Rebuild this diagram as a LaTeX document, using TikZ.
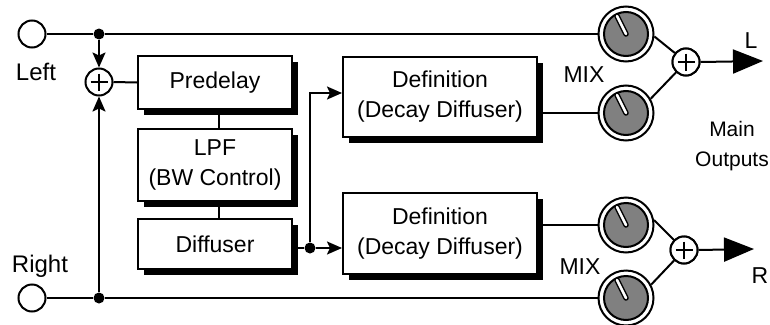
\documentclass[tikz,border=0pt]{standalone}
\usepackage{fontspec}
\setmainfont{Liberation Sans}
\usetikzlibrary{shadows,arrows.meta,calc}
\begin{document}
\begin{tikzpicture}[x=1pt,y=-1pt,
  font=\fontsize{23}{30}\selectfont,
  wire/.style={line width=2pt},
  arr/.style={wire,-{Stealth[length=15pt,width=13pt,inset=3pt]}},
  bigarr/.style={wire,-{Triangle[length=30pt,width=24pt]}},
  blk/.style={draw,line width=2pt,fill=white,inner sep=0pt,align=center,
    drop shadow={shadow xshift=6pt,shadow yshift=-6pt,fill=black,opacity=1}},
  port/.style={circle,draw,line width=2pt,fill=white,minimum size=27pt,inner sep=0pt,outer sep=1pt},
  junc/.style={circle,fill=black,minimum size=11pt,inner sep=0pt},
  summer/.style={circle,draw,line width=2pt,fill=white,minimum size=27pt,inner sep=0pt,outer sep=1pt,
    path picture={\draw[line width=2.4pt] ($(path picture bounding box.center)+(-8.5,0)$) -- +(17,0)
      ($(path picture bounding box.center)+(0,-8.5)$) -- +(0,17);}},
  knob/.style={circle,draw,line width=2pt,fill=white,minimum size=55pt,inner sep=0pt,outer sep=1pt},
  knobin/.style={draw,line width=2pt,fill=black!50},
  lbl/.style={inner sep=0pt,anchor=base},
  biglbl/.style={lbl,font=\fontsize{24}{30}\selectfont}
]
\useasboundingbox (0,0) rectangle (770,324);

% inputs
\node[port] (inL) at (32,34) {};
\node[port] (inR) at (32,298) {};
\node[biglbl] (tL) at (36,80) {Left};
\node[biglbl] (tR) at (40,272) {Right};

% knobs
\node[knob] (k1) at (626,34) {};
\node[knob] (k2) at (626,113) {};
\node[knob] (k3) at (626,225) {};
\node[knob] (k4) at (626,298) {};
\foreach \n in {k1,k2,k3,k4}{
  \draw[knobin] (\n.center) circle[radius=22pt];
  \draw[line width=5.5pt,line cap=round] (\n.center) -- ++(-9,-18);
  \draw[line width=2.5pt,white,line cap=round] (\n.center) -- ++(-9,-18);
}

% junctions and summer
\node[junc] (dL) at (99,34) {};
\node[junc] (dR) at (99,298) {};
\node[summer] (sIn) at (99,82) {};

% blocks
\node[blk,minimum width=154pt,minimum height=53pt] (pre) at (215,82.5) {Predelay};
\node[blk,minimum width=154pt,minimum height=72pt] (lpf) at (215,165) {LPF\\(BW Control)};
\node[blk,minimum width=154pt,minimum height=50pt] (dif) at (215,244) {Diffuser};
\node[blk,minimum width=194pt,minimum height=80pt] (d1) at (440,97) {Definition\\(Decay Diffuser)};
\node[blk,minimum width=194pt,minimum height=81pt] (d2) at (440,233.5) {Definition\\(Decay Diffuser)};

\node[junc] (dD) at (310,248) {};

% output summers
\node[summer] (sL) at (686,62) {};
\node[summer] (sR) at (684,250) {};
\coordinate (oL) at (763,61);
\coordinate (oR) at (754,249);

% wires
\draw[wire] (inL.east) -- (dL) -- (k1.west);
\draw[wire] (inR.east) -- (dR) -- (k4.west);
\draw[arr] (dL) -- (sIn.north);
\draw[arr] (dR) -- (sIn.south);
\draw[wire] (sIn.east) -- (pre.west);
\draw[wire] ([xshift=4pt]pre.south) -- ([xshift=4pt]lpf.north);
\draw[wire] ([xshift=4pt]lpf.south) -- ([xshift=4pt]dif.north);
\draw[wire] (dif.east |- dD) -- (dD);
\draw[arr] (dD) -- (dD -| d2.west);
\draw[arr] (dD) |- ([yshift=4pt]d1.west);
\draw[wire] (d1.east |- k2) -- (k2.west);
\draw[wire] (d2.east |- k3) -- (k3.west);
\draw[wire] (k1.-5) -- (sL);
\draw[wire] (k2.30) -- (sL);
\draw[wire] (k3.10) -- (sR);
\draw[wire] (k4.28) -- (sR);
\draw[bigarr] (sL.east) -- (oL);
\draw[bigarr] (sR.east) -- (oR);

% summers on top of wires
\node[summer] at (sL) {};
\node[summer] at (sR) {};

% labels
\node[lbl] (mix1) at (584,82) {MIX};
\node[lbl] (mix2) at (580,274) {MIX};
\node[lbl] (lo) at (751,48) {L};
\node[lbl] (ro) at (760,283) {R};
\node[inner sep=0pt,align=center,anchor=north,font=\fontsize{21}{30}\selectfont] (mo) at (732,121) {Main\\Outputs};
\end{tikzpicture}
\end{document}
